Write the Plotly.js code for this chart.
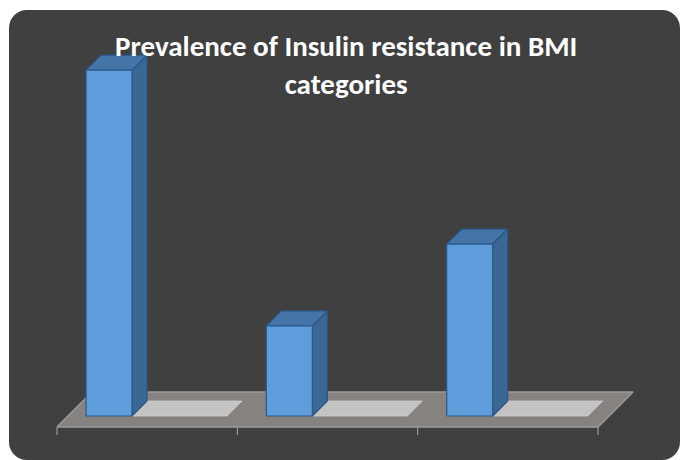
<!DOCTYPE html>
<html>
<head>
<meta charset="utf-8">
<script src="https://cdn.plot.ly/plotly-3.0.1.min.js"></script>
<style>
  html, body { margin: 0; padding: 0; background: #ffffff; }
  #frame {
    position: absolute; left: 9px; top: 10px; width: 671px; height: 450px;
    background: #404040; border-radius: 18px; overflow: hidden;
  }
  #chart { position: absolute; left: 0; top: 0; width: 680px; height: 460px; }
</style>
</head>
<body>
<div id="frame"></div>
<div id="chart"></div>
<script>
// Category slots along the floor (three BMI groups)
const categoryIndex = [0, 1, 2];
// Series 1: prevalence of insulin resistance (%)
const resistant = [68, 17.7, 33.8];
// Series 2: flat companion bars lying on the floor
const companion = [0, 0, 0];
// Floor tick positions (slot boundaries)
const tickPositions = [0, 1, 2, 3];

const W = 680, H = 460;
const M = { l: 20, r: 20, t: 20, b: 20 };
// Pixel scale of the floor front edge: slot 0..3 spans 541 px, 80 % spans 407 px
const pxX = 541 / 3;
const pxY = 407 / 80;
const FLOOR_LEFT = 57, FLOOR_BASE = 427;
const X_RANGE = [(M.l - FLOOR_LEFT) / pxX, (W - M.r - FLOOR_LEFT) / pxX];
const Y_RANGE = [-(H - M.b - FLOOR_BASE) / pxY, (FLOOR_BASE - M.t) / pxY];

// Oblique projection: a depth of d pixels moves a point right and up by d.
function proj(x, y, d) { return [x + d / pxX, y + d / pxY]; }

function poly(points, fill, line, lw) {
  const xs = [], ys = [];
  points.forEach(p => { const q = proj(p[0], p[1], p[2]); xs.push(q[0]); ys.push(q[1]); });
  xs.push(xs[0]); ys.push(ys[0]);
  return {
    type: 'scatter', mode: 'lines', x: xs, y: ys, fill: 'toself',
    fillcolor: fill, line: { color: line, width: lw },
    hoverinfo: 'skip', showlegend: false
  };
}

const FLOOR_DEPTH = 35;
const BAR_Z0 = 11, BAR_Z1 = 26;
const BAR_OFF = 0.1, BAR_W = 0.255;
const PLATE_X0 = 0.355, PLATE_X1 = 0.882;

const traces = [];

// Floor
traces.push(poly([
  [tickPositions[0], 0, 0], [tickPositions[3], 0, 0],
  [tickPositions[3], 0, FLOOR_DEPTH], [tickPositions[0], 0, FLOOR_DEPTH]
], '#858280', '#9c9a98', 1.5));

// Flat companion bars
categoryIndex.forEach((k, i) => {
  const v = companion[i];
  traces.push(poly([
    [k + PLATE_X0, v, BAR_Z0], [k + PLATE_X1, v, BAR_Z0],
    [k + PLATE_X1, v, BAR_Z1], [k + PLATE_X0, v, BAR_Z1]
  ], '#c3c3c3', '#cfcfcf', 0.8));
});

// Prevalence bars: side, top, front
categoryIndex.forEach((k, i) => {
  const v = resistant[i];
  const x0 = k + BAR_OFF, x1 = x0 + BAR_W;
  traces.push(poly([[x1, 0, BAR_Z0], [x1, v, BAR_Z0], [x1, v, BAR_Z1], [x1, 0, BAR_Z1]],
    '#3a6794', '#2b5683', 1.2));
  traces.push(poly([[x0, v, BAR_Z0], [x1, v, BAR_Z0], [x1, v, BAR_Z1], [x0, v, BAR_Z1]],
    '#4474a8', '#2b5683', 1.2));
  traces.push(poly([[x0, 0, BAR_Z0], [x1, 0, BAR_Z0], [x1, v, BAR_Z0], [x0, v, BAR_Z0]],
    '#5e9cdb', '#2b5a8c', 1.2));
});

// Tick marks hanging below the floor front edge
tickPositions.forEach(t => {
  traces.push({
    type: 'scatter', mode: 'lines', x: [t, t], y: [0, -8 / pxY],
    line: { color: '#a8a8a8', width: 1 }, hoverinfo: 'skip', showlegend: false
  });
});

const layout = {
  width: W, height: H,
  margin: M,
  paper_bgcolor: 'rgba(0,0,0,0)',
  plot_bgcolor: 'rgba(0,0,0,0)',
  title: {
    text: 'Prevalence of Insulin resistance in BMI<br>categories',
    font: { family: "Calibri, Carlito, Lato, 'Open Sans', sans-serif", size: 29, color: '#ffffff', weight: 'bold' },
    x: 0.509, xref: 'container', xanchor: 'center',
    y: 1 - 56 / H, yref: 'container', yanchor: 'top'
  },
  xaxis: { range: X_RANGE, visible: false, fixedrange: true },
  yaxis: { range: Y_RANGE, visible: false, fixedrange: true },
  showlegend: false
};

Plotly.newPlot('chart', traces, layout, { staticPlot: true, displayModeBar: false });
</script>
</body>
</html>
